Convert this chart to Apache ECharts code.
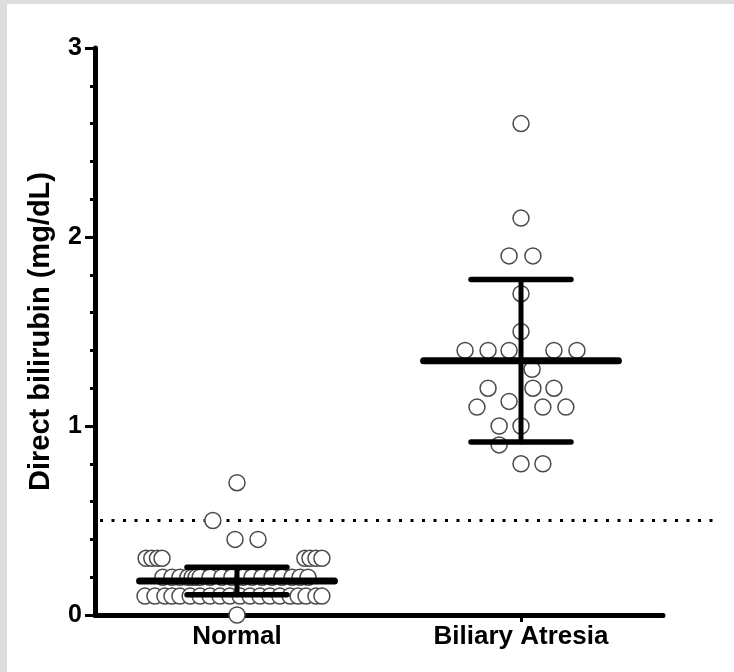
<!DOCTYPE html>
<html>
<head>
<meta charset="utf-8">
<script src="https://cdn.jsdelivr.net/npm/echarts@6/dist/echarts.min.js"></script>
<style>
html,body{margin:0;padding:0;background:#fff;}
#chart{width:734px;height:672px;}
</style>
</head>
<body>
<div id="chart"></div>
<script>
// ---- data ----
const categories = ['Normal', 'Biliary Atresia'];
const yTicks = [0, 1, 2, 3];
const cutoff = 0.5;

const normalValues = [0.7, 0.5, 0.4, 0.4, 0.0,
  0.3, 0.3, 0.3, 0.3, 0.3, 0.3, 0.3, 0.3,
  0.2, 0.2, 0.2, 0.2, 0.2, 0.2, 0.2, 0.2, 0.2, 0.2, 0.2, 0.2, 0.2, 0.2, 0.2, 0.2, 0.2, 0.2,
  0.1, 0.1, 0.1, 0.1, 0.1, 0.1, 0.1, 0.1, 0.1, 0.1, 0.1, 0.1, 0.1, 0.1, 0.1, 0.1, 0.1, 0.1, 0.1, 0.1];
// horizontal scatter offset of each point, in category widths
const normalJitter = [0, -0.085, -0.007, 0.074, 0,
  -0.320, -0.300, -0.280, -0.264, 0.239, 0.257, 0.278, 0.299,
  -0.261, -0.229, -0.201, -0.173, -0.158, -0.144, -0.130, -0.095, -0.053, -0.018, 0.021, 0.053, 0.088, 0.123, 0.158, 0.194, 0.222, 0.250,
  -0.324, -0.289, -0.254, -0.229, -0.201, -0.165, -0.130, -0.095, -0.060, -0.025, 0.011, 0.046, 0.081, 0.116, 0.151, 0.187, 0.215, 0.243, 0.278, 0.299];

const atresiaValues = [2.6, 2.1, 1.9, 1.9, 1.7, 1.5,
  1.4, 1.4, 1.4, 1.4, 1.4, 1.3, 1.2, 1.2, 1.2, 1.13,
  1.1, 1.1, 1.1, 1.0, 1.0, 0.9, 0.8, 0.8];
const atresiaJitter = [0, 0, -0.042, 0.042, 0, 0,
  -0.197, -0.116, -0.042, 0.116, 0.197, 0.039, -0.116, 0.042, 0.116, -0.042,
  -0.155, 0.077, 0.158, -0.077, 0, -0.077, 0, 0.077];

const groupMeans = [0.18, 1.345];
const groupSDs = [0.073, 0.43];

// ---- build ----
const centers = [0.5, 1.5];
function pts(vals, jit, ci) { return vals.map((v, i) => [centers[ci] + jit[i], v]); }

const FONT = '"Liberation Sans", Arial, sans-serif';

const option = {
  backgroundColor: '#ffffff',
  animation: false,
  graphic: [
    { type: 'rect', left: 0, top: 0, shape: { width: 7, height: 672 }, style: { fill: '#dddddd' }, z: 100 },
    { type: 'rect', left: 0, top: 0, shape: { width: 734, height: 4 }, style: { fill: '#dddddd' }, z: 100 }
  ],
  grid: [
    { left: 95, right: 71, top: 48, bottom: 57, containLabel: false },
    { left: 100, right: 16, top: 48, bottom: 57, containLabel: false }
  ],
  xAxis: [
    {
      type: 'category', gridIndex: 0, data: categories, boundaryGap: true, z: 0,
      axisLine: { show: true, lineStyle: { color: '#000', width: 5 } },
      axisTick: { show: true, alignWithLabel: true, length: 7, lineStyle: { color: '#000', width: 3 } },
      axisLabel: { color: '#000', fontFamily: FONT, fontWeight: 'bold', fontSize: 26, margin: 9 },
      splitLine: { show: false }
    },
    { type: 'value', gridIndex: 0, min: 0, max: 2, show: false, splitLine: { show: false } },
    { type: 'value', gridIndex: 1, min: 0, max: 1, show: false, splitLine: { show: false } }
  ],
  yAxis: [
    {
      type: 'value', gridIndex: 0, min: yTicks[0], max: yTicks[yTicks.length - 1], interval: 1, z: 0,
      name: 'Direct bilirubin (mg/dL)', nameLocation: 'middle', nameGap: 40,
      nameTextStyle: { color: '#000', fontFamily: FONT, fontWeight: 'bold', fontSize: 29 },
      axisLine: { show: true, lineStyle: { color: '#000', width: 5 } },
      axisTick: { show: true, length: 10, lineStyle: { color: '#000', width: 3 } },
      minorTick: { show: true, splitNumber: 5, length: 5, lineStyle: { color: '#000', width: 3 } },
      axisLabel: { color: '#000', fontFamily: FONT, fontWeight: 'bold', fontSize: 25, margin: 13 },
      splitLine: { show: false }
    },
    { type: 'value', gridIndex: 1, min: yTicks[0], max: yTicks[yTicks.length - 1], show: false, splitLine: { show: false } }
  ],
  series: [
    {
      type: 'line', xAxisIndex: 2, yAxisIndex: 1, data: [[0, cutoff], [1, cutoff]],
      symbol: 'none', silent: true,
      lineStyle: { color: '#000', width: 3, type: [3, 8.5], cap: 'butt' }, z: 1
    },
    {
      type: 'scatter', xAxisIndex: 1, yAxisIndex: 0, data: pts(normalValues, normalJitter, 0),
      symbol: 'circle', symbolSize: 16, clip: false,
      itemStyle: { color: '#fff', borderColor: '#4a4a4a', borderWidth: 1.5, opacity: 1 }, z: 10
    },
    {
      type: 'scatter', xAxisIndex: 1, yAxisIndex: 0, data: pts(atresiaValues, atresiaJitter, 1),
      symbol: 'circle', symbolSize: 16, clip: false,
      itemStyle: { color: '#fff', borderColor: '#4a4a4a', borderWidth: 1.5, opacity: 1 }, z: 10
    },
    {
      type: 'custom', xAxisIndex: 1, yAxisIndex: 0, z: 11, clip: false,
      data: groupMeans.map((m, i) => [centers[i], m, groupSDs[i]]),
      encode: { x: 0, y: 1 },
      renderItem: function (params, api) {
        const x = api.value(0), m = api.value(1), sd = api.value(2);
        const c = api.coord([x, m]);
        const up = api.coord([x, m + sd]);
        const lo = api.coord([x, m - sd]);
        const hm = api.size([0.343, 0])[0];
        const hc = api.size([0.176, 0])[0];
        const st = (w) => ({ stroke: '#000', lineWidth: w, lineCap: 'round' });
        return {
          type: 'group',
          children: [
            { type: 'line', shape: { x1: c[0], y1: up[1], x2: c[0], y2: lo[1] }, style: st(5) },
            { type: 'line', shape: { x1: c[0] - hc, y1: up[1], x2: c[0] + hc, y2: up[1] }, style: st(5.5) },
            { type: 'line', shape: { x1: c[0] - hc, y1: lo[1], x2: c[0] + hc, y2: lo[1] }, style: st(5.5) },
            { type: 'line', shape: { x1: c[0] - hm, y1: c[1], x2: c[0] + hm, y2: c[1] }, style: st(7) }
          ]
        };
      }
    }
  ]
};

const chart = echarts.init(document.getElementById('chart'), null, { renderer: 'canvas' });
chart.setOption(option);
</script>
</body>
</html>
